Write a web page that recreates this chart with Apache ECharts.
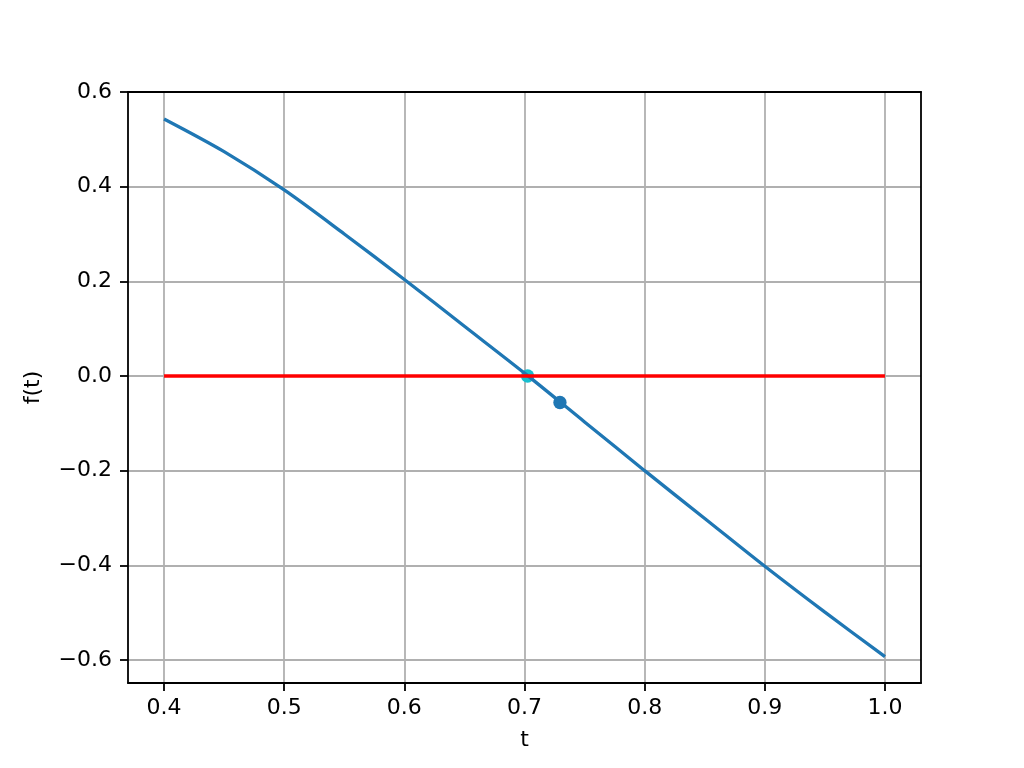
<!DOCTYPE html>
<html>
<head>
<meta charset="utf-8">
<script src="https://cdn.jsdelivr.net/npm/echarts@6/dist/echarts.min.js"></script>
<style>html,body{margin:0;padding:0;background:#fff}#c{width:1024px;height:768px}</style>
</head>
<body>
<div id="c"></div>
<script>
// Data
const tValues = [0.4, 0.45, 0.5, 0.55, 0.6, 0.65, 0.7, 0.75, 0.8, 0.85, 0.9, 0.95, 1.0];
const fValues = [0.543, 0.474, 0.393, 0.300, 0.204, 0.105, 0.006, -0.097, -0.200, -0.301, -0.402, -0.499, -0.593];
const zeroLineT = [0.4, 1.0];
const zeroLineF = [0.0, 0.0];
const rootPoint = [0.7026, 0.0];
const iterPoint = [0.7295, -0.056];
const xTicks = [0.4, 0.5, 0.6, 0.7, 0.8, 0.9, 1.0];
const yTicks = [-0.6, -0.4, -0.2, 0.0, 0.2, 0.4, 0.6];

const fmt = v => v.toFixed(1).replace('-', '\u2212');
const font = 'DejaVu Sans';
const X_MIN = 0.37, X_MAX = 1.03, Y_MIN = -0.6486, Y_MAX = 0.6;
const spine = {show: true, onZero: false, lineStyle: {color: '#000', width: 1.8}};

const chart = echarts.init(document.getElementById('c'), null, {renderer: 'canvas'});
chart.setOption({
  animation: false,
  backgroundColor: '#ffffff',
  textStyle: {fontFamily: font},
  grid: {left: 128, right: 103, top: 92, bottom: 85, show: false},
  xAxis: [{
    type: 'value', min: X_MIN, max: X_MAX, z: 10, position: 'bottom',
    name: 't', nameLocation: 'middle', nameGap: 46,
    nameTextStyle: {fontSize: 22, color: '#000', fontFamily: font},
    axisLine: spine,
    axisTick: {show: true, customValues: xTicks, length: 8, lineStyle: {color: '#000', width: 1.8}},
    axisLabel: {customValues: xTicks, formatter: fmt, fontSize: 22, color: '#000', margin: 14, fontFamily: font},
    splitLine: {show: false}
  }, {
    type: 'value', min: X_MIN, max: X_MAX, z: 10, position: 'top',
    axisLine: spine, axisTick: {show: false}, axisLabel: {show: false}, splitLine: {show: false}
  }],
  yAxis: [{
    type: 'value', min: Y_MIN, max: Y_MAX, z: 10, position: 'left',
    name: 'f(t)', nameLocation: 'middle', nameGap: 84, nameRotate: 90,
    nameTextStyle: {fontSize: 22, color: '#000', fontFamily: font},
    axisLine: spine,
    axisTick: {show: true, customValues: yTicks, length: 8, lineStyle: {color: '#000', width: 1.8}},
    axisLabel: {customValues: yTicks, formatter: fmt, fontSize: 22, color: '#000', margin: 16, fontFamily: font},
    splitLine: {show: false}
  }, {
    type: 'value', min: Y_MIN, max: Y_MAX, z: 10, position: 'right',
    axisLine: spine, axisTick: {show: false}, axisLabel: {show: false}, splitLine: {show: false}
  }],
  series: [
    {
      type: 'line', data: [], silent: true, z: 1,
      markLine: {
        silent: true, symbol: 'none', label: {show: false}, animation: false, z: 1,
        lineStyle: {color: '#b0b0b0', width: 1.8, type: 'solid'},
        emphasis: {disabled: true},
        data: xTicks.map(v => ({xAxis: v})).concat(yTicks.map(v => ({yAxis: v})))
      }
    },
    {
      type: 'scatter', z: 2, silent: true,
      data: [rootPoint], symbolSize: 13.3,
      itemStyle: {color: '#17becf', opacity: 1}
    },
    {
      type: 'line', z: 3, silent: true, showSymbol: false, smooth: 0.3,
      data: tValues.map((t, i) => [t, fValues[i]]),
      lineStyle: {color: '#1f77b4', width: 3.3}
    },
    {
      type: 'line', z: 4, silent: true, showSymbol: false,
      data: zeroLineT.map((t, i) => [t, zeroLineF[i]]),
      lineStyle: {color: '#ff0000', width: 3.3}
    },
    {
      type: 'scatter', z: 5, silent: true,
      data: [iterPoint], symbolSize: 13.3,
      itemStyle: {color: '#1f77b4', opacity: 1}
    }
  ]
});
</script>
</body>
</html>
